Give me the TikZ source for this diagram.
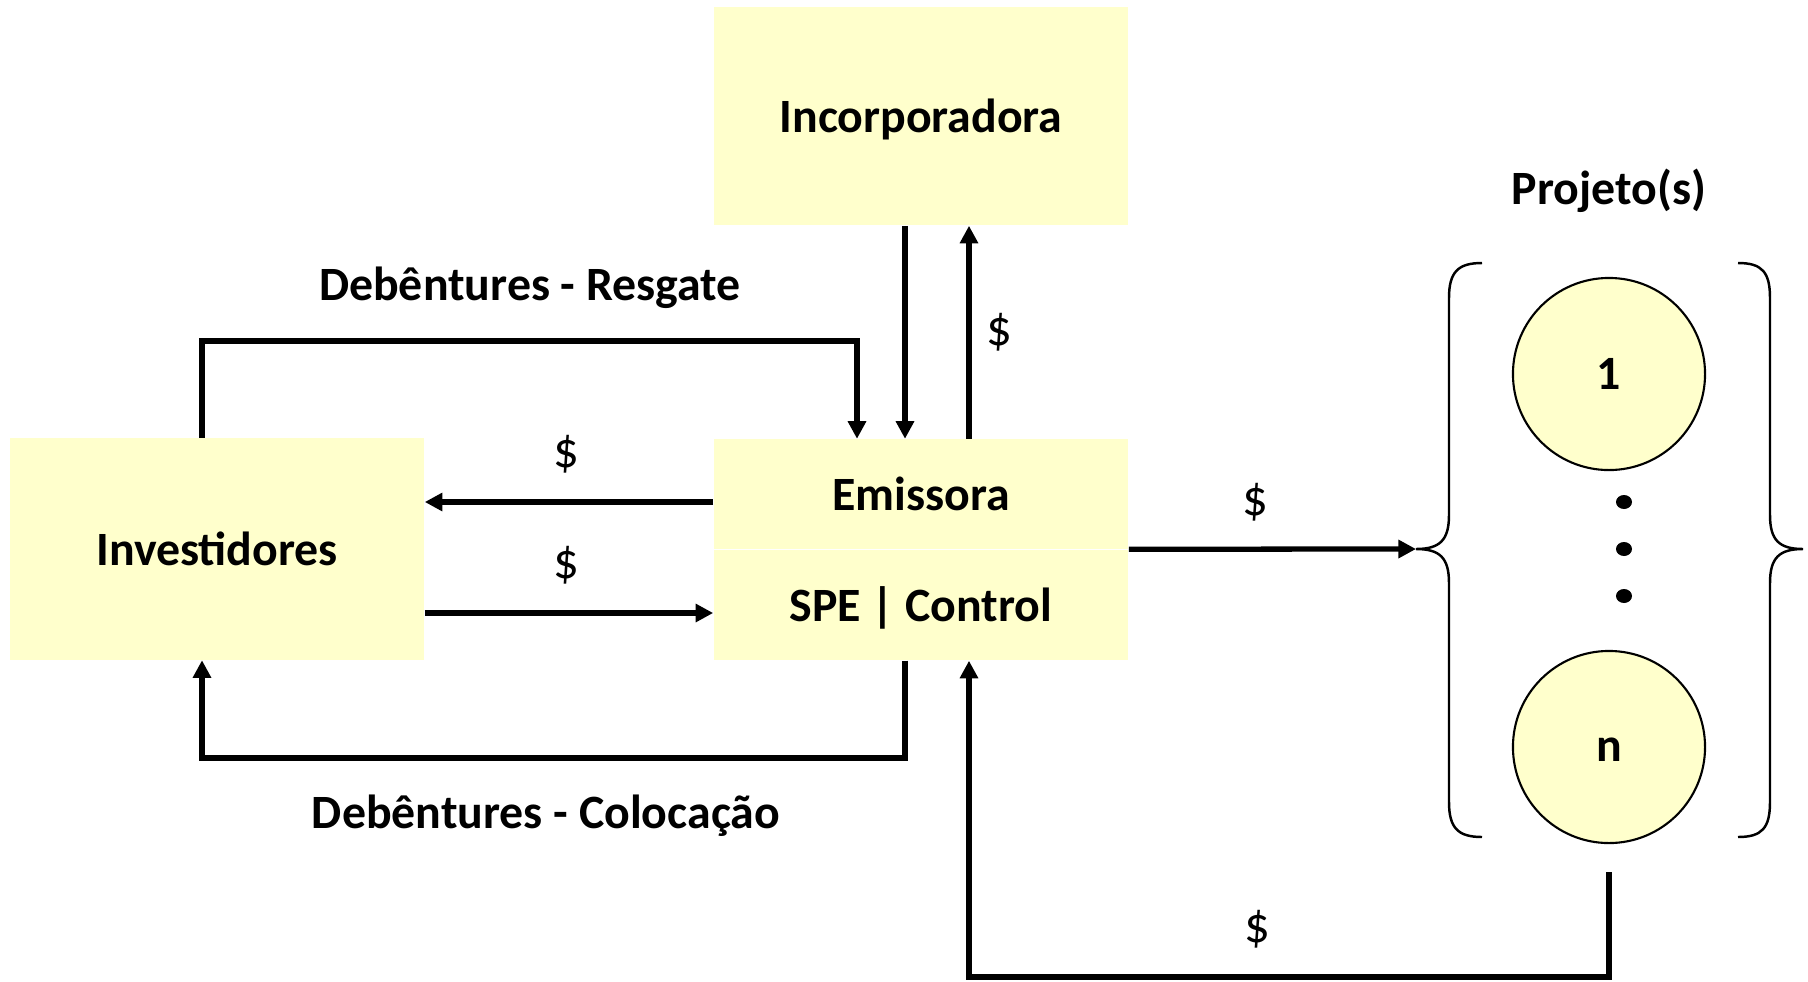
\documentclass[tikz,border=0pt]{standalone}
\usepackage{fontspec}
\setmainfont{Carlito}
\usetikzlibrary{arrows.meta}
\definecolor{amarelo}{RGB}{255,255,204}
\newcommand{\fonte}{\fontsize{13.6}{16}\selectfont}
\tikzstyle{caixa} = [rectangle, fill=amarelo, inner sep=0pt, minimum width=4.14cm, font=\fonte\bfseries]
\tikzstyle{projeto} = [circle, draw=black, line width=0.6pt, fill=amarelo, minimum size=1.92cm, font=\fonte\bfseries]
\tikzstyle{fluxo} = [line width=1.5pt, -{Triangle[length=5pt,width=5pt]}]
\tikzstyle{rotulo} = [font=\fonte\bfseries]
\tikzstyle{valor} = [font=\fontsize{14.5}{16}\selectfont]

\begin{document}
\begin{tikzpicture}[x=0.01cm, y=-0.01cm]
    \useasboundingbox (0,0) rectangle (1808,981);

    % caixas
    \node [caixa, minimum height=2.18cm, text height=12pt, text depth=2.4pt] (incorp) at (921,116) {Incorporadora};
    \node [caixa, minimum height=2.21cm] (inv) at (217,549) {Investidores};
    \node [caixa, minimum height=1.09cm] (emis) at (921,494) {Emissora};
    \node [caixa, minimum height=1.10cm, text height=12pt, text depth=2.4pt] (spe) at (921,605) {SPE | Control};

    % projetos
    \node [rotulo] (titulo) at (1609,191) {Projeto(s)};
    \node [projeto] (p1) at (1609,374) {1};
    \node [projeto, text height=8.4pt, text depth=0pt] (pn) at (1609,747) {n};
    \foreach \y in {502,549,596}
        \fill (1624,\y) ellipse (0.08cm and 0.07cm);

    % chaves
    \coordinate (chave) at (1416,549);
    \draw [line width=0.7pt] (1482,263) .. controls (1458,263) and (1449,272) .. (1449,298) -- (1449,515)
        .. controls (1449,540) and (1440,549) .. (chave)
        .. controls (1440,549) and (1449,558) .. (1449,583) -- (1449,802)
        .. controls (1449,828) and (1458,837) .. (1482,837);
    \draw [line width=0.7pt] (1738,263) .. controls (1762,263) and (1770,272) .. (1770,298) -- (1770,515)
        .. controls (1770,540) and (1779,549) .. (1803,549)
        .. controls (1779,549) and (1770,558) .. (1770,583) -- (1770,802)
        .. controls (1770,828) and (1762,837) .. (1738,837);

    % pontos de passagem
    \coordinate (resg1) at (202,341);
    \coordinate (resg2) at (857,341);
    \coordinate (desce) at (905,0);
    \coordinate (sobe) at (969,0);
    \coordinate (pag) at (0,502);
    \coordinate (aporte) at (0,613);
    \coordinate (coloc1) at (905,758);
    \coordinate (coloc2) at (202,758);
    \coordinate (ret1) at (1609,977);
    \coordinate (ret2) at (969,977);

    % fluxos
    \draw [fluxo] (inv.north -| resg1) -- (resg1) -- (resg2) -- (emis.north -| resg2);
    \node [rotulo] (resgate) at (530,288) {Debêntures - Resgate};

    \draw [fluxo] (incorp.south -| desce) -- (emis.north -| desce);
    \draw [fluxo] (emis.north -| sobe) -- (incorp.south -| sobe) node [valor, midway, right=1pt] {\$};

    \draw [fluxo] (emis.west |- pag) -- (inv.east |- pag) node [valor, pos=0.51, above=4pt] {\$};
    \draw [fluxo] (inv.east |- aporte) -- (emis.west |- aporte) node [valor, pos=0.49, above=4pt] {\$};

    \draw [fluxo] (spe.south -| coloc1) -- (coloc1) -- (coloc2) -- (inv.south -| coloc2);
    \node [rotulo] (colocacao) at (546,816) {Debêntures - Colocação};

    \draw [fluxo] (emis.south east) -- (chave) node [valor, pos=0.44, above=4pt] {\$};

    \draw [fluxo] ([yshift=-0.28cm]pn.south) -- (ret1) -- (ret2) node [valor, pos=0.55, above=4pt] {\$}
        -- (spe.south -| ret2);
\end{tikzpicture}
\end{document}
